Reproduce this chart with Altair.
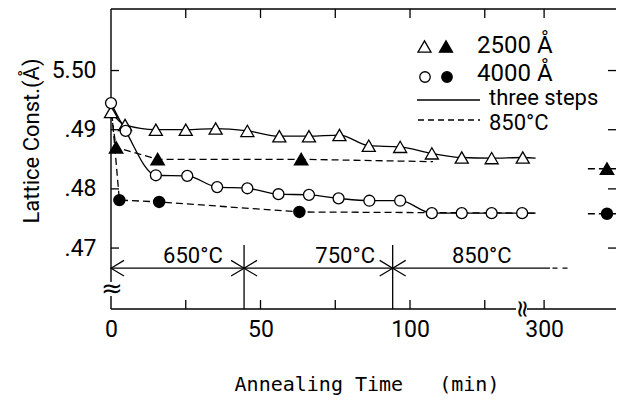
import altair as alt
import pandas as pd

# ---------------- values ----------------
# three-step anneal (open markers); time in min, lattice constant in Å
t_tri_open = [0, 4.7, 15, 25, 35, 45.6, 56.3, 66.2, 76.4, 86.2, 96.7, 107.3, 117.3, 127.3, 137.7]
v_tri_open = [5.4930, 5.4908, 5.4900, 5.4900, 5.4902, 5.4898, 5.4889, 5.4889,
              5.4891, 5.4873, 5.4871, 5.4860, 5.4853, 5.4852, 5.4853]
t_circ_open = [0, 4.9, 15, 25.5, 35.5, 45.6, 56, 66.2, 76.1, 86.4, 96.7, 107.3, 117.3, 127.3, 137.5]
v_circ_open = [5.4945, 5.4898, 5.4823, 5.4822, 5.4803, 5.4801, 5.4791, 5.4790,
               5.4784, 5.4780, 5.4780, 5.4759, 5.4759, 5.4759, 5.4759]
# 850°C anneal (filled markers)
t_tri_fill = [1.7, 15.6, 63.6, 600]
v_tri_fill = [5.4870, 5.4850, 5.4850, 5.4834]
t_circ_fill = [2.8, 16.1, 63, 600]
v_circ_fill = [5.4781, 5.4778, 5.4761, 5.4758]
# line ends
t_solid_end = 142
v_tri_solid_end = 5.4852
v_circ_solid_end = 5.4759
t_dash_tri_end = 107.7
v_dash_tri_end = 5.4846
t_dash_circ_end = 142
v_dash_circ_end = 5.4759
t_tail = [509, 643]
# temperature steps annotation
t_steps = [0, 44.5, 94.2]
v_arrow = 5.4666
v_step_top = 5.4705
t_arrow_end = 328
t_arrow_dash = [340, 423]
step_names = ["650°C", "750°C", "850°C"]
t_step_labels = [27.4, 78.3, 124]
v_step_label = 5.4675
# axes
x_tick_labels = [0, 50, 100, 300]
x_ticks = [25, 50, 75, 100, 125, 300]
y_ticks = [5.47, 5.48, 5.49, 5.50]

FONT = "Roboto"
K = "black"
W, H = 505, 300

xscale = alt.Scale(domain=[0, 143, 290, 643], range=[0, 427.6, 431, 505], nice=False, zero=False)
yscale = alt.Scale(domain=[5.4597, 5.5104], nice=False, zero=False)
xaxis = alt.Axis(values=x_tick_labels, ticks=False, domain=False, grid=False, labelFont=FONT,
                 labelFontSize=23, labelColor=K, labelPadding=9, title="", labelOverlap=False,
                 labelFlush=False)
yaxis = alt.Axis(values=y_ticks, ticks=False, domain=False, grid=False, labelFont=FONT,
                 labelFontSize=23, labelColor=K, labelPadding=15, title="", labelOverlap=False,
                 labelFlush=False,
                 labelExpr="datum.value > 5.495 ? '5.50' : '.' + slice(format(datum.value, '.2f'), 2)")


def X(f="t"):
    return alt.X(f"{f}:Q", scale=xscale, axis=xaxis)


def Y(f="v"):
    return alt.Y(f"{f}:Q", scale=yscale, axis=yaxis)


one = pd.DataFrame({"a": [0]})
tri_open = pd.DataFrame({"t": t_tri_open, "v": v_tri_open})
circ_open = pd.DataFrame({"t": t_circ_open, "v": v_circ_open})
tri_fill = pd.DataFrame({"t": t_tri_fill, "v": v_tri_fill})
circ_fill = pd.DataFrame({"t": t_circ_fill, "v": v_circ_fill})
tri_line = pd.DataFrame({"t": t_tri_open + [t_solid_end], "v": v_tri_open + [v_tri_solid_end]})
circ_line = pd.DataFrame({"t": t_circ_open + [t_solid_end], "v": v_circ_open + [v_circ_solid_end]})
dash_tri = pd.DataFrame({"t": [t_tri_open[0]] + t_tri_fill[:3] + [t_dash_tri_end],
                         "v": [v_tri_open[0]] + v_tri_fill[:3] + [v_dash_tri_end]})
dash_circ = pd.DataFrame({"t": [t_circ_open[0]] + t_circ_fill[:3] + [t_dash_circ_end],
                          "v": [v_circ_open[0]] + v_circ_fill[:3] + [v_dash_circ_end]})
tail = pd.DataFrame({"t": t_tail * 2, "v": [v_tri_fill[-1]] * 2 + [v_circ_fill[-1]] * 2,
                     "g": ["a", "a", "b", "b"]})
arrow_solid = pd.DataFrame({"t": [t_steps[0], t_arrow_end], "v": [v_arrow] * 2})
arrow_dash = pd.DataFrame({"t": t_arrow_dash, "v": [v_arrow] * 2})
steps_v = pd.DataFrame({"t": t_steps[1:], "v": [v_step_top] * 2})
chev_l = pd.DataFrame({"t": t_steps, "v": [v_arrow] * 3})
chev_r = pd.DataFrame({"t": t_steps[1:], "v": [v_arrow] * 2})
step_lab = pd.DataFrame({"t": t_step_labels, "v": [v_step_label] * 3, "s": step_names})
xt = pd.DataFrame({"t": x_ticks})
yt = pd.DataFrame({"v": y_ticks})

layers = []
# frame
fr = alt.Chart(one).mark_rule(color=K, strokeWidth=1.4)
layers += [
    fr.encode(x=alt.value(0), x2=alt.value(W), y=alt.value(0)),
    fr.encode(x=alt.value(0), y=alt.value(0), y2=alt.value(H)),
    fr.encode(x=alt.value(0), x2=alt.value(W), y=alt.value(H)),
]
# inward ticks
tk = alt.Chart(xt).mark_rule(color=K, strokeWidth=1.3)
layers += [tk.encode(x=X(), y=alt.value(H), y2=alt.value(H - 9)),
           tk.encode(x=X(), y=alt.value(0), y2=alt.value(9))]
tky = alt.Chart(yt).mark_rule(color=K, strokeWidth=1.3)
layers += [tky.encode(y=Y(), x=alt.value(0), x2=alt.value(8)),
           tky.encode(y=Y(), x=alt.value(W - 8), x2=alt.value(W))]
# axis breaks
wr = alt.Chart(one).mark_rule(color="white", strokeWidth=5)
layers += [
    wr.encode(x=alt.value(0), y=alt.value(273), y2=alt.value(287)),
    wr.encode(x=alt.value(405), x2=alt.value(416), y=alt.value(H)),
    alt.Chart(one).mark_text(text="≈", font="DejaVu Sans", fontSize=26, color=K,
                             align="center", baseline="middle").encode(x=alt.value(1), y=alt.value(280)),
    alt.Chart(one).mark_text(text="≈", font="DejaVu Sans", fontSize=24, color=K, angle=90,
                             align="center", baseline="middle").encode(x=alt.value(411), y=alt.value(H)),
]
# temperature steps
layers += [
    alt.Chart(arrow_solid).mark_line(color=K, strokeWidth=1.3).encode(x=X(), y=Y()),
    alt.Chart(arrow_dash).mark_line(color=K, strokeWidth=1.3, strokeDash=[5, 5]).encode(x=X(), y=Y()),
    alt.Chart(steps_v).mark_rule(color=K, strokeWidth=1.3).encode(x=X(), y=Y(), y2=alt.value(H)),
    alt.Chart(chev_l).mark_point(shape="M1,-0.6L0,0L1,0.6", filled=False, color=K, size=676,
                                 strokeWidth=1.2, opacity=1).encode(x=X(), y=Y()),
    alt.Chart(chev_r).mark_point(shape="M-1,-0.6L0,0L-1,0.6", filled=False, color=K, size=676,
                                 strokeWidth=1.2, opacity=1).encode(x=X(), y=Y()),
    alt.Chart(step_lab).mark_text(font=FONT, fontSize=22, color=K, align="center",
                                  baseline="alphabetic").encode(x=X(), y=Y(), text="s:N"),
]
# data lines
dash = dict(color=K, strokeWidth=1.3, strokeDash=[7, 4])
layers += [
    alt.Chart(dash_tri).mark_line(**dash).encode(x=X(), y=Y()),
    alt.Chart(dash_circ).mark_line(**dash).encode(x=X(), y=Y()),
    alt.Chart(tail).mark_line(**dash).encode(x=X(), y=Y(), detail="g:N"),
    alt.Chart(tri_line).mark_line(color=K, strokeWidth=1.3, interpolate="monotone").encode(x=X(), y=Y()),
    alt.Chart(circ_line).mark_line(color=K, strokeWidth=1.3, interpolate="monotone").encode(x=X(), y=Y()),
]
# markers
layers += [
    alt.Chart(tri_fill).mark_point(shape="triangle-up", filled=True, fill=K, stroke=K, size=150,
                                   opacity=1).encode(x=X(), y=Y()),
    alt.Chart(circ_fill).mark_point(shape="circle", filled=True, fill=K, stroke=K, size=110,
                                    opacity=1).encode(x=X(), y=Y()),
    alt.Chart(tri_open).mark_point(shape="triangle-up", filled=True, fill="white", stroke=K,
                                   strokeWidth=1.3, size=170, opacity=1).encode(x=X(), y=Y()),
    alt.Chart(circ_open).mark_point(shape="circle", filled=True, fill="white", stroke=K,
                                    strokeWidth=1.3, size=120, opacity=1).encode(x=X(), y=Y()),
]
# legend
def sym(shape, fill, x, y, size):
    return alt.Chart(one).mark_point(shape=shape, filled=True, fill=fill, stroke=K, strokeWidth=1.3,
                                     size=size, opacity=1).encode(x=alt.value(x), y=alt.value(y))


def txt(s, x, y, size=23, **kw):
    return alt.Chart(one).mark_text(text=s, font=FONT, fontSize=size, color=K, align="left",
                                    baseline="alphabetic", **kw).encode(x=alt.value(x), y=alt.value(y))


layers += [
    sym("triangle-up", "white", 313.5, 37.5, 170),
    sym("triangle-up", K, 335, 37.5, 170),
    sym("circle", "white", 314, 68, 110),
    sym("circle", K, 336, 68, 110),
    txt("2500 Å", 366, 44, 24),
    txt("4000 Å", 366, 72, 24),
    txt("three steps", 378, 96, 22),
    txt("850°C", 378, 121, 22),
    alt.Chart(one).mark_rule(color=K, strokeWidth=1.4).encode(x=alt.value(306), x2=alt.value(369), y=alt.value(91)),
    alt.Chart(one).mark_rule(color=K, strokeWidth=1.3, strokeDash=[6, 4]).encode(
        x=alt.value(307), x2=alt.value(369), y=alt.value(111)),
]
# axis titles
layers += [
    alt.Chart(one).mark_text(text="Lattice Const.(Å)", font=FONT, fontSize=22, color=K, angle=270,
                             align="center", baseline="middle").encode(x=alt.value(-79), y=alt.value(132)),
    alt.Chart(one).mark_text(text="Annealing Time\u00a0\u00a0\u00a0(min)", font="DejaVu Sans Mono",
                             fontSize=20, color=K, align="center",
                             baseline="alphabetic").encode(x=alt.value(256), y=alt.value(382)),
]

chart = alt.layer(*layers).properties(
    width=W, height=H,
    padding={"left": 103, "top": 1, "right": 0, "bottom": 89},
    autosize=alt.AutoSizeParams(type="none"),
).configure_view(strokeWidth=0)

chart.save("out.html", embed_options={"renderer": "svg", "actions": False})
